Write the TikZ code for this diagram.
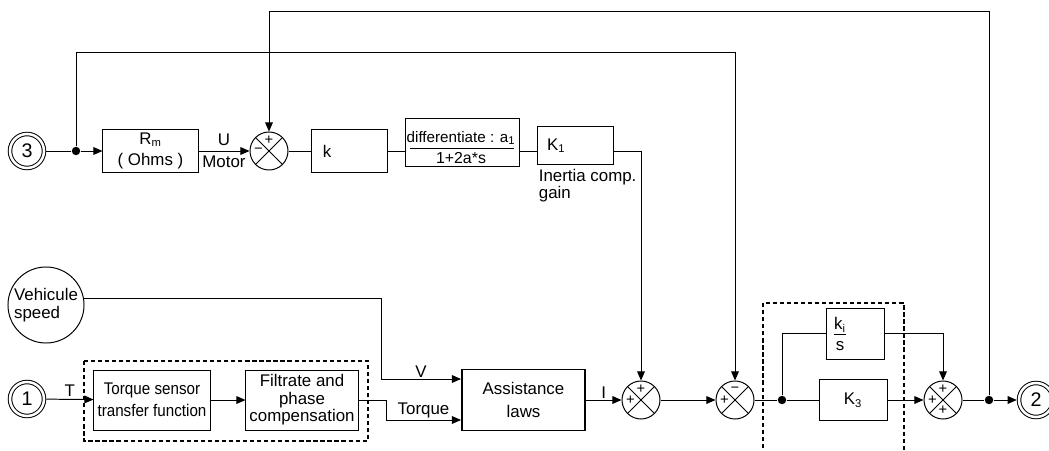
\documentclass[tikz,border=0pt]{standalone}
\usepackage{fontspec}
\setmainfont{Liberation Sans}
\newfontfamily\narrowsans[FakeStretch=0.9]{Liberation Sans}
\usetikzlibrary{positioning, arrows.meta}
\newcommand{\subidx}[1]{\textsubscript{\fontsize{8}{8}\selectfont #1}}

\begin{document}
\begin{tikzpicture}[
    x=0.025cm, y=-0.025cm,
    line width=0.7pt,
    font=\fontsize{12}{13}\selectfont,
    blk/.style={rectangle, draw, inner sep=1pt, align=center},
    sumnode/.style={circle, draw, minimum size=0.95cm, inner sep=0pt,
        path picture={\draw (path picture bounding box.north west) -- (path picture bounding box.south east)
                            (path picture bounding box.north east) -- (path picture bounding box.south west);}},
    sgn/.style={inner sep=0pt, font=\fontsize{10.5}{10}\selectfont},
    port/.style={circle, draw, double, double distance=1.8pt, minimum size=0.85cm,
                 inner sep=0pt, outer sep=1.6pt, font=\fontsize{14}{16}\selectfont},
    dot/.style={circle, fill, inner sep=0pt, minimum size=6pt},
    lbl/.style={inner sep=1pt, align=center},
    arrow/.style={-{Triangle[length=6.5pt, width=5.5pt]}},
    groupbox/.style={dash pattern=on 3pt off 2pt, line width=0.9pt},
]
    \useasboundingbox (0,0) rectangle (1049,451);

    % Motor current branch
    \node[port] (in3) at (27,151) {3};
    \node[dot] (j1) at (76,151) {};
    \node[blk, minimum width=2.375cm, minimum height=1.05cm, font=\fontsize{12}{15.5}\selectfont]
        (rm) at (150.5,151) {R\subidx{m}\\( Ohms )};
    \node[sumnode] (s1) at (269,151) {};
    \node[blk, minimum width=1.9cm, minimum height=1.05cm, inner xsep=0.3cm, text width=1.3cm, align=left]
        (kb) at (349,151) {k};
    \node[blk, minimum width=2.85cm, minimum height=1.175cm] (diff) at (462,142.5) {};
    \node[lbl, font=\fontsize{10.8}{12}\selectfont] (diffnum) at (461,138) {differentiate : a\subidx{1}};
    \node[lbl, font=\fontsize{11.3}{12}\selectfont] (diffden) at (461,158) {1+2a*s};
    \draw (410,148) -- (514,148);
    \node[blk, minimum width=1.9cm, minimum height=0.925cm, inner xsep=0.25cm, text width=1.4cm, align=left]
        (k1) at (575,145.5) {K\subidx{1}};
    \node[lbl, anchor=north west, align=left, font=\fontsize{12}{11}\selectfont]
        (inertia) at (537,167) {Inertia comp.\\gain};

    % Torque branch
    \node[circle, draw, minimum size=1.9cm, inner sep=0pt, align=left, font=\fontsize{12}{12.5}\selectfont]
        (veh) at (46,305) {Vehicule\\speed};
    \node[port] (in1) at (27,399) {1};
    \node[blk, minimum width=2.9cm, minimum height=1.5cm, font=\narrowsans\fontsize{12}{16}\selectfont]
        (sens) at (152,400) {Torque sensor\\transfer function};
    \node[blk, minimum width=2.8cm, minimum height=1.5cm, font=\fontsize{12}{12.5}\selectfont]
        (filt) at (302,400) {Filtrate and\\phase\\compensation};
    \draw[groupbox] (84,361) rectangle (368,441);
    \node[blk, line width=1.4pt, minimum width=3.075cm, minimum height=1.525cm, font=\fontsize{12}{16.5}\selectfont]
        (assist) at (523.5,400) {Assistance\\laws};
    \node[sumnode] (s2) at (641,400) {};
    \node[sumnode] (s3) at (735,400) {};

    % PI corrector
    \node[dot] (j2) at (782,400) {};
    \node[blk, minimum width=1.45cm, minimum height=1.275cm] (ki) at (855,333.5) {};
    \node[lbl, font=\fontsize{12}{15}\selectfont] (kifrac) at (840,334) {\underline{k\subidx{i}}\\s};
    \node[blk, minimum width=1.7cm, minimum height=1.025cm] (k3) at (853,400) {K\subidx{3}};
    \node[sumnode] (s4) at (943,400) {};
    \node[dot] (j3) at (989,400) {};
    \node[port] (out2) at (1036,400) {2};
    \draw[groupbox] (763,455) -- (763,303) -- (904,303) -- (904,455);

    % Signs
    \node[sgn] (s1a) at ([yshift=7.5pt]s1.center) {+};
    \node[sgn] (s1b) at ([xshift=-7.5pt]s1.center) {−};
    \node[sgn] (s2a) at ([yshift=7.5pt]s2.center) {+};
    \node[sgn] (s2b) at ([xshift=-7.5pt]s2.center) {+};
    \node[sgn] (s3a) at ([yshift=7.5pt]s3.center) {−};
    \node[sgn] (s3b) at ([xshift=-7.5pt]s3.center) {+};
    \node[sgn] (s4a) at ([yshift=7.5pt]s4.center) {+};
    \node[sgn] (s4b) at ([xshift=-7.5pt]s4.center) {+};
    \node[sgn] (s4c) at ([yshift=-7.5pt]s4.center) {+};

    % Bends
    \coordinate (c1) at (s1 |- 0,11);
    \coordinate (c2) at (s3 |- 0,52);
    \coordinate (vb) at (381,379);
    \coordinate (tb) at (386,420);
    \coordinate (vin) at (assist.west |- 0,379);
    \coordinate (tin) at (assist.west |- 0,420);

    % Arrows
    \draw (in3) -- (j1);
    \draw[arrow] (j1) -- (rm);
    \draw[arrow] (rm) -- (s1) node[lbl, midway, above=2.5pt] (ulbl) {U} node[lbl, midway, below=2pt] (motor) {Motor};
    \draw (s1) -- (kb);
    \draw (kb) -- (kb -| diff.west);
    \draw (diff.east |- kb) -- (k1.west |- kb);
    \draw[arrow] (k1.east |- kb) -| (s2);
    \draw[arrow] (j1) |- (c2) -- (s3);
    \draw[arrow] (j3) |- (c1) -- (s1);

    \draw[arrow] (in1) -- (sens) node[lbl, midway, above=1pt] (tlbl) {T};
    \draw[arrow] (sens) -- (filt);
    \draw[arrow] (veh.9) -| (vb) -- (vin) node[lbl, midway, above] (vlbl) {V};
    \draw[arrow] (filt) -| (tb) -- (tin) node[lbl, midway, above] (tqlbl) {Torque};
    \draw[arrow] (assist) -- (s2) node[lbl, midway, above] (ilbl) {I};
    \draw[arrow] (s2) -- (s3);

    \draw (s3) -- (j2);
    \draw (j2) -- (k3);
    \draw (j2) |- (ki);
    \draw[arrow] (ki) -| (s4);
    \draw[arrow] (k3) -- (s4);
    \draw (s4) -- (j3);
    \draw[arrow] (j3) -- (out2);
\end{tikzpicture}
\end{document}
